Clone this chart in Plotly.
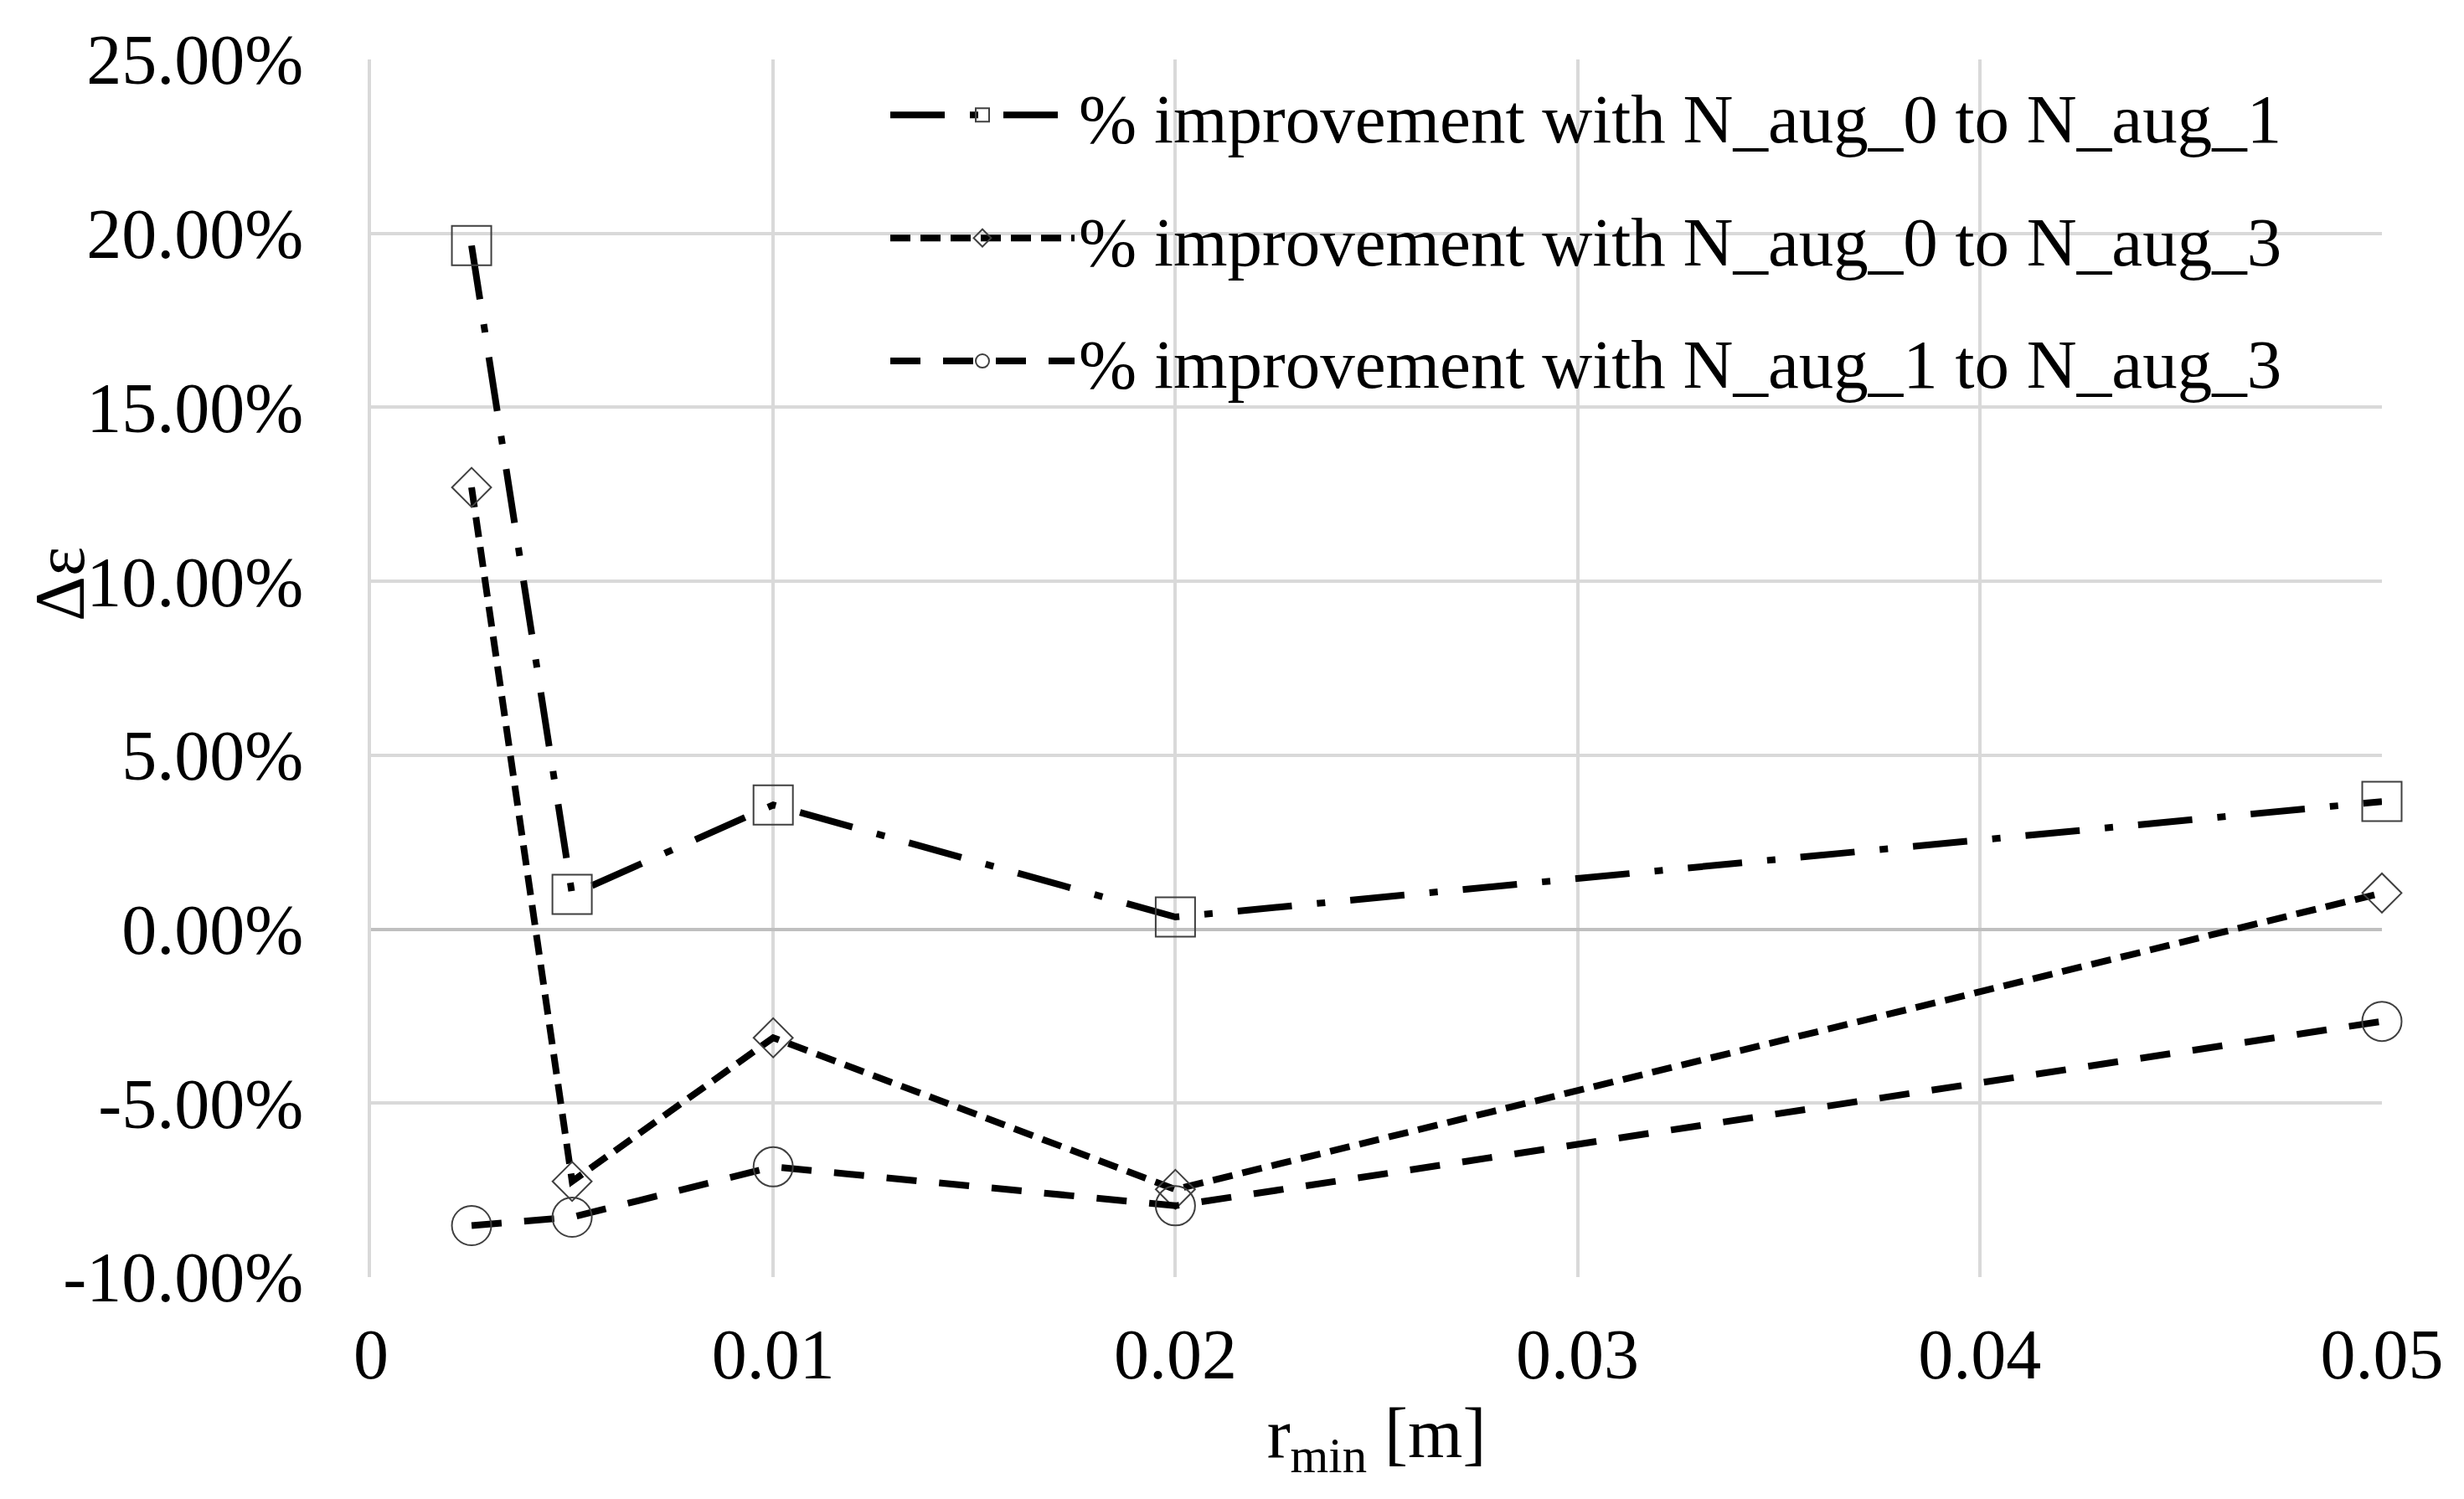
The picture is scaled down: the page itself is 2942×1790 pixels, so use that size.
import plotly.graph_objects as go

r_min = [0.0025, 0.005, 0.01, 0.02, 0.05]
imp_0_to_1 = [0.1965, 0.0100, 0.0357, 0.0035, 0.0367]
imp_0_to_3 = [0.1270, -0.0725, -0.0312, -0.0748, 0.0104]
imp_1_to_3 = [-0.0852, -0.0828, -0.0683, -0.0795, -0.0265]

names = [
    "% improvement with N_aug_0 to N_aug_1",
    "% improvement with N_aug_0 to N_aug_3",
    "% improvement with N_aug_1 to N_aug_3",
]

x_tickvals = [0, 0.01, 0.02, 0.03, 0.04, 0.05]
x_ticktext = ["0", "0.01", "0.02", "0.03", "0.04", "0.05"]
y_tickvals = [-0.10, -0.05, 0.0, 0.05, 0.10, 0.15, 0.20, 0.25]
y_ticktext = ["-10.00%", "-5.00%", "0.00%", "5.00%", "10.00%", "15.00%", "20.00%", "25.00%"]

FONT = "Liberation Serif, Times New Roman, serif"
W, H = 2942, 1790
L, R, T, B = 435, 106, 63, 273
PW, PH = W - L - R, H - T - B

fig = go.Figure()
styles = [
    (imp_0_to_1, "square-open", 47, "65px,30px,10px,30px"),
    (imp_0_to_3, "diamond-open", 36, "24px,12px"),
    (imp_1_to_3, "circle-open", 47, "36px,27px"),
]
for i, (vals, sym, sz, dash) in enumerate(styles):
    fig.add_trace(go.Scatter(
        x=r_min, y=vals, name=names[i], mode="lines+markers",
        legendgroup=f"g{i}",
        line=dict(color="black", width=8, dash=dash),
        marker=dict(symbol=sym, size=sz, color="#404040",
                    line=dict(color="#404040", width=2)),
        cliponaxis=False,
    ))

fig.add_annotation(
    text="Δε", textangle=-90, showarrow=False,
    xref="paper", yref="paper",
    x=(63 - L) / PW, y=(H - B - 690) / PH,
    xanchor="center", yanchor="middle",
    font=dict(family=FONT, size=84, color="black"),
)

fig.update_layout(
    width=W, height=H,
    margin=dict(l=L, r=R, t=T, b=B),
    paper_bgcolor="white", plot_bgcolor="white",
    font=dict(family=FONT, size=84, color="black"),
    showlegend=True,
    legend=dict(
        x=(1050 - L) / PW, y=0.996, xanchor="left", yanchor="top",
        bgcolor="rgba(255,255,255,0)", borderwidth=0,
        font=dict(family=FONT, size=83, color="black"),
        tracegroupgap=36, itemwidth=220,
    ),
    xaxis=dict(
        range=[0, 0.05], tickvals=x_tickvals, ticktext=x_ticktext,
        showgrid=True, gridcolor="#d9d9d9", gridwidth=4,
        showline=False, zeroline=False, ticks="",
        ticklabelstandoff=36,
        title=dict(text="r<sub>min</sub> [m]", font=dict(family=FONT, size=84), standoff=18),
        tickfont=dict(family=FONT, size=84),
    ),
    yaxis=dict(
        range=[-0.10, 0.25], tickvals=y_tickvals, ticktext=y_ticktext,
        showgrid=True, gridcolor="#d9d9d9", gridwidth=4,
        zeroline=True, zerolinecolor="#bfbfbf", zerolinewidth=4,
        showline=True, linecolor="#d9d9d9", linewidth=4,
        ticks="", ticklabelstandoff=60,
        tickfont=dict(family=FONT, size=84),
    ),
)

fig.write_html("out.html")
